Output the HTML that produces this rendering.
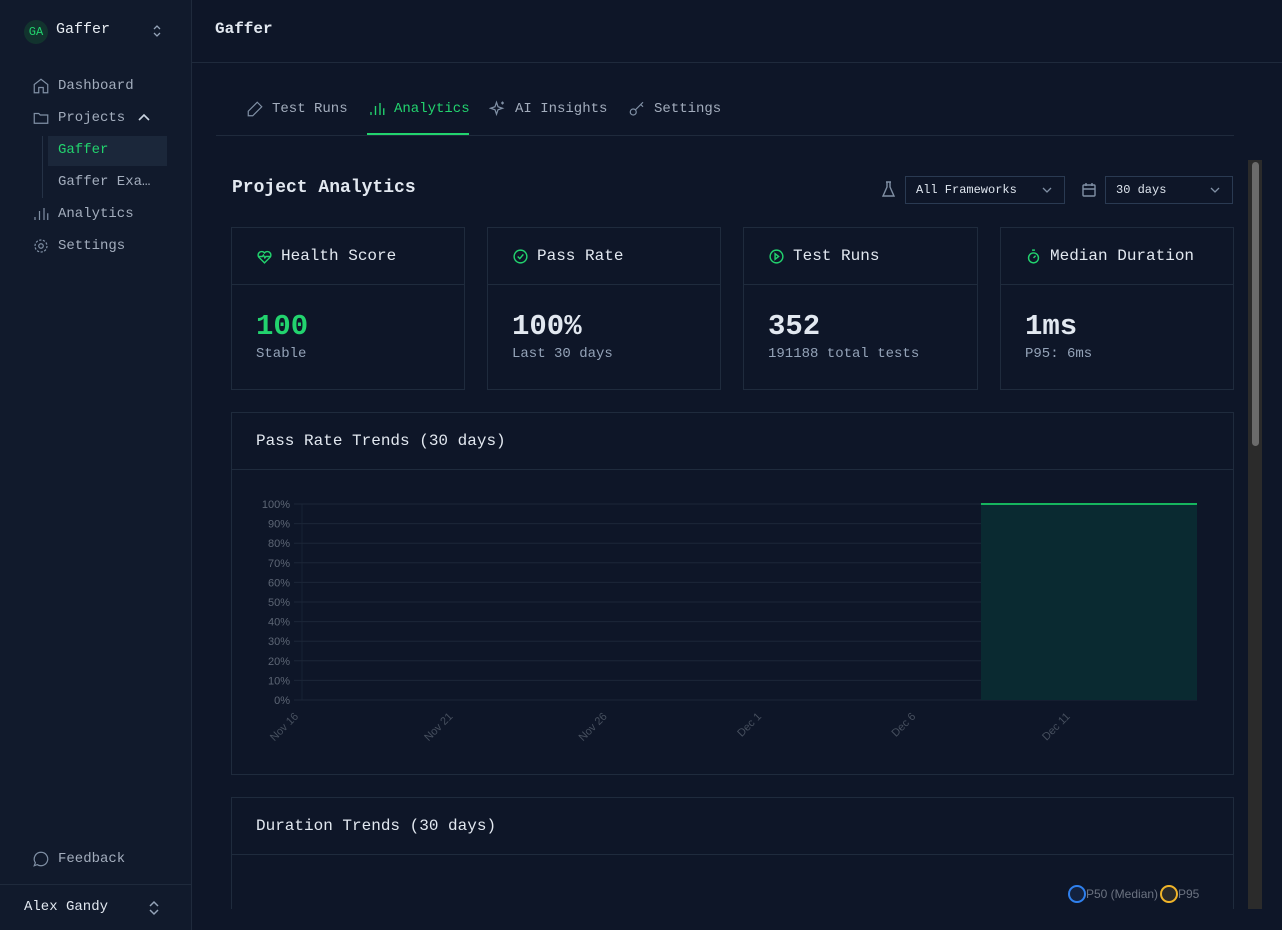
<!DOCTYPE html>
<html><head><meta charset="utf-8">
<style>
*{box-sizing:border-box;margin:0;padding:0}
html,body{width:1282px;height:930px;overflow:hidden}
body{background:#0e1628;font-family:"Liberation Mono",monospace;color:#e2e8f0;position:relative}
.abs{position:absolute}
#sidebar{left:0;top:0;width:192px;height:930px;background:#111a2c;border-right:1px solid #1f2a3c;z-index:5}
.nav{position:absolute;left:32px;font-size:14px;color:#a3adbd;display:flex;align-items:center;gap:8px;height:24px}
.nav svg{width:18px;height:18px}
.card{position:absolute;border:1px solid #1f2b3d;background:#0e1628}
.card .hd{height:57px;border-bottom:1px solid #1f2b3d;display:flex;align-items:center;padding-left:24px;font-size:16px;gap:8px;color:#e2e8f0}
.card .hd svg{width:17px;height:17px}
.big{position:absolute;left:24px;top:82px;font-size:29px;font-weight:bold}
.sub{position:absolute;left:24px;top:118px;font-size:14px;color:#94a3b8}
.tab{position:absolute;top:100px;font-size:14px;color:#a3adbd;display:flex;gap:8px;align-items:center}
.tab svg{width:18px;height:18px}
.sel{position:absolute;top:176px;height:28px;border:1px solid #2a3a52;font-size:12px;color:#dfe6ef;padding:6px 10px}
</style></head><body>
<div id="sidebar" class="abs">
  <div class="abs" style="left:24px;top:20px;width:24px;height:24px;border-radius:12px;background:#12332e;color:#22d36e;font-size:12px;text-align:center;line-height:24px">GA</div>
  <div class="abs" style="left:56px;top:21px;font-size:15px;color:#e8edf3">Gaffer</div>
  <svg class="abs" style="left:152px;top:24px" width="10" height="14" viewBox="0 0 10 14" fill="none" stroke="#94a3b8" stroke-width="1.3"><path d="M2 5l3-3 3 3M2 9l3 3 3-3"/></svg>
  <div class="nav" style="top:74px"><svg viewBox="0 0 24 24" fill="none" stroke="#8090a5" stroke-width="1.6"><path d="M3 10l9-7 9 7v11h-6v-7H9v7H3z"/></svg><span>Dashboard</span></div>
  <div class="nav" style="top:106px"><svg viewBox="0 0 24 24" fill="none" stroke="#8090a5" stroke-width="1.6"><path d="M3 6h6l2 2h10v11H3z"/></svg><span>Projects</span><svg style="margin-left:4px;width:14px;height:14px" viewBox="0 0 14 14" fill="none" stroke="#cbd5e1" stroke-width="1.6"><path d="M2 9l5-5 5 5"/></svg></div>
  <div class="abs" style="left:42px;top:136px;width:1px;height:62px;background:#253246"></div>
  <div class="abs" style="left:48px;top:136px;width:119px;height:30px;background:#1b273a;color:#22d36e;font-size:14px;padding:6px 10px">Gaffer</div>
  <div class="abs" style="left:58px;top:174px;font-size:14px;color:#a3adbd">Gaffer Exa…</div>
  <div class="nav" style="top:202px"><svg viewBox="0 0 24 24" fill="none" stroke="#8090a5" stroke-width="1.6"><path d="M4 20v-4M10 20V8M16 20V4M21 20v-9"/></svg><span>Analytics</span></div>
  <div class="nav" style="top:234px"><svg viewBox="0 0 24 24" fill="none" stroke="#8090a5" stroke-width="1.6"><circle cx="12" cy="12" r="3"/><circle cx="12" cy="12" r="8" stroke-dasharray="3 2"/></svg><span>Settings</span></div>
  <div class="nav" style="top:847px"><svg viewBox="0 0 24 24" fill="none" stroke="#8090a5" stroke-width="1.6"><path d="M12 3a9 9 0 1 1-5 16.5L3 21l1.5-4A9 9 0 0 1 12 3z"/></svg><span>Feedback</span></div>
  <div class="abs" style="left:0;top:884px;width:191px;height:1px;background:#1f2a3c"></div>
  <div class="abs" style="left:24px;top:899px;font-size:14px;color:#e2e8f0">Alex Gandy</div>
  <svg class="abs" style="left:148px;top:900px" width="12" height="16" viewBox="0 0 12 16" fill="none" stroke="#94a3b8" stroke-width="1.5"><path d="M2 6l4-4 4 4M2 10l4 4 4-4"/></svg>
</div>
<div class="abs" style="left:215px;top:20px;font-size:16px;font-weight:bold">Gaffer</div>
<div class="abs" style="left:192px;top:62px;width:1090px;height:1px;background:#1f2a3c"></div>
<div class="tab" style="left:246px"><svg viewBox="0 0 24 24" fill="none" stroke="#8090a5" stroke-width="1.6"><path d="M15 3l6 6L9 21H3v-6z"/></svg>Test Runs</div>
<div class="tab" style="left:368px;color:#22d36e"><svg viewBox="0 0 24 24" fill="none" stroke="#22d36e" stroke-width="1.8"><path d="M4 20v-4M10 20V8M16 20V4M21 20v-9"/></svg>Analytics</div>
<div class="abs" style="left:367px;top:133px;width:102px;height:2px;background:#22d36e"></div>
<div class="tab" style="left:489px"><svg viewBox="0 0 24 24" fill="none" stroke="#8090a5" stroke-width="1.6"><path d="M10 3l2 6 6 2-6 2-2 6-2-6-6-2 6-2zM18 2v4M16 4h4"/></svg>AI Insights</div>
<div class="tab" style="left:628px"><svg viewBox="0 0 24 24" fill="none" stroke="#8090a5" stroke-width="1.6"><circle cx="7" cy="16" r="4"/><path d="M10 13l10-10M17 6l3 3"/></svg>Settings</div>
<div class="abs" style="left:216px;top:135px;width:1018px;height:1px;background:#1f2a3c"></div>
<div class="abs" style="left:1248px;top:160px;width:14px;height:750px;background:#2b2b2b"><div style="margin:2px 0 0 4px;width:7px;height:284px;border-radius:4px;background:#6b6b6b"></div></div>
<div class="abs" style="left:232px;top:178px;font-size:18px;font-weight:bold">Project Analytics</div>
<svg class="abs" style="left:881px;top:181px" width="15" height="17" viewBox="0 0 15 17" fill="none" stroke="#8090a5" stroke-width="1.4"><path d="M5 1h5M6 1v5L2 15h11L9 6V1"/></svg>
<div class="sel" style="left:905px;width:160px">All Frameworks<svg style="position:absolute;right:12px;top:10px" width="10" height="6" viewBox="0 0 10 6" fill="none" stroke="#8090a5" stroke-width="1.3"><path d="M1 1l4 4 4-4"/></svg></div>
<svg class="abs" style="left:1082px;top:182px" width="14" height="15" viewBox="0 0 14 15" fill="none" stroke="#8090a5" stroke-width="1.4"><rect x="1" y="3" width="12" height="11" rx="1"/><path d="M1 7h12M4 1v3M10 1v3"/></svg>
<div class="sel" style="left:1105px;width:128px">30 days<svg style="position:absolute;right:12px;top:10px" width="10" height="6" viewBox="0 0 10 6" fill="none" stroke="#8090a5" stroke-width="1.3"><path d="M1 1l4 4 4-4"/></svg></div>

<div class="card" style="left:231px;top:227px;width:234px;height:163px"><div class="hd"><svg viewBox="0 0 24 24" fill="none" stroke="#22d36e" stroke-width="2"><path d="M12 21l-8-8a5 5 0 0 1 8-6 5 5 0 0 1 8 6z"/><path d="M4 12h5l1.5-2 2 4 1.5-2h6"/></svg>Health Score</div><div class="big" style="color:#22d36e">100</div><div class="sub">Stable</div></div>
<div class="card" style="left:487px;top:227px;width:234px;height:163px"><div class="hd"><svg viewBox="0 0 24 24" fill="none" stroke="#22d36e" stroke-width="2"><circle cx="12" cy="12" r="9"/><path d="M8 12l3 3 5-6"/></svg>Pass Rate</div><div class="big">100%</div><div class="sub">Last 30 days</div></div>
<div class="card" style="left:743px;top:227px;width:235px;height:163px"><div class="hd"><svg viewBox="0 0 24 24" fill="none" stroke="#22d36e" stroke-width="2"><circle cx="12" cy="12" r="9"/><path d="M10 8l5 4-5 4z"/></svg>Test Runs</div><div class="big">352</div><div class="sub">191188 total tests</div></div>
<div class="card" style="left:1000px;top:227px;width:234px;height:163px"><div class="hd"><svg viewBox="0 0 24 24" fill="none" stroke="#22d36e" stroke-width="2"><circle cx="12" cy="14" r="7"/><path d="M10 3h4M12 14l3-3"/></svg>Median Duration</div><div class="big">1ms</div><div class="sub">P95: 6ms</div></div>

<div class="card" style="left:231px;top:412px;width:1003px;height:363px"><div class="hd">Pass Rate Trends (30 days)</div></div>
<svg class="abs" style="left:0;top:0" width="1282" height="930" id="chart"></svg>

<div class="card" style="left:231px;top:797px;width:1003px;height:130px"><div class="hd">Duration Trends (30 days)</div></div>
<div class="abs" style="left:1068px;top:885px;width:18px;height:18px;border:2px solid #2f80ed;border-radius:9px;background:#13223f"></div>
<div class="abs" style="left:1086px;top:887px;font-family:'Liberation Sans',sans-serif;font-size:12px;color:#6b7280">P50 (Median)</div>
<div class="abs" style="left:1160px;top:885px;width:18px;height:18px;border:2px solid #f0b429;border-radius:9px;background:#2a2a2a"></div>
<div class="abs" style="left:1178px;top:887px;font-family:'Liberation Sans',sans-serif;font-size:12px;color:#6b7280">P95</div>
<div class="abs" style="left:192px;top:909px;width:1090px;height:21px;background:#0e1628;z-index:4"></div>

<script>
const yTicks=[0,10,20,30,40,50,60,70,80,90,100];
const xTickLabels=["Nov 16","Nov 21","Nov 26","Dec 1","Dec 6","Dec 11"];
const xTickDays=[0,5,10,15,20,25];
const dataDays=[22,29];
const passRates=[100,100];
const ns="http://www.w3.org/2000/svg";
const svg=document.getElementById('chart');
const X0=302,X1=1197,Y0=700,Y1=504,DMAX=29;
const x=d=>X0+(X1-X0)*d/DMAX;
const y=v=>Y0-(Y0-Y1)*v/100;
function mk(t,a){const e=document.createElementNS(ns,t);for(const k in a)e.setAttribute(k,a[k]);svg.appendChild(e);return e;}
const ax=mk('line',{x1:X0,x2:X0,y1:Y1,y2:Y0,stroke:'#172133','stroke-width':1});


yTicks.forEach(v=>{
  const l=mk('line',{x1:X0-8,x2:X1,y1:y(v),y2:y(v),stroke:'#1c2738','stroke-width':1});
  
  
  const t=mk('text',{x:X0-12,y:y(v)+4,'text-anchor':'end','font-family':'Liberation Sans, sans-serif','font-size':11,fill:'#5d6675'});
  t.textContent=v+'%';
  
  
});
xTickDays.forEach((d,i)=>{
  const t=mk('text',{transform:`translate(${x(d)-3},${y(0)+17}) rotate(-45)`,'text-anchor':'end','font-family':'Liberation Sans, sans-serif','font-size':11,fill:'#464f5e'});
  t.textContent=xTickLabels[i];
  
  
});
let p=`M${x(dataDays[0])},${y(0)}`;
dataDays.forEach((d,i)=>p+=`L${x(d)},${y(passRates[i])}`);
p+=`L${x(dataDays[dataDays.length-1])},${y(0)}Z`;
const a=mk('path',{d:p,fill:'#0a2a31'});


const ln=mk('polyline',{points:dataDays.map((d,i)=>x(d)+','+y(passRates[i])).join(' '),fill:'none',stroke:'#16b55e','stroke-width':2});


</script>
</body></html>
